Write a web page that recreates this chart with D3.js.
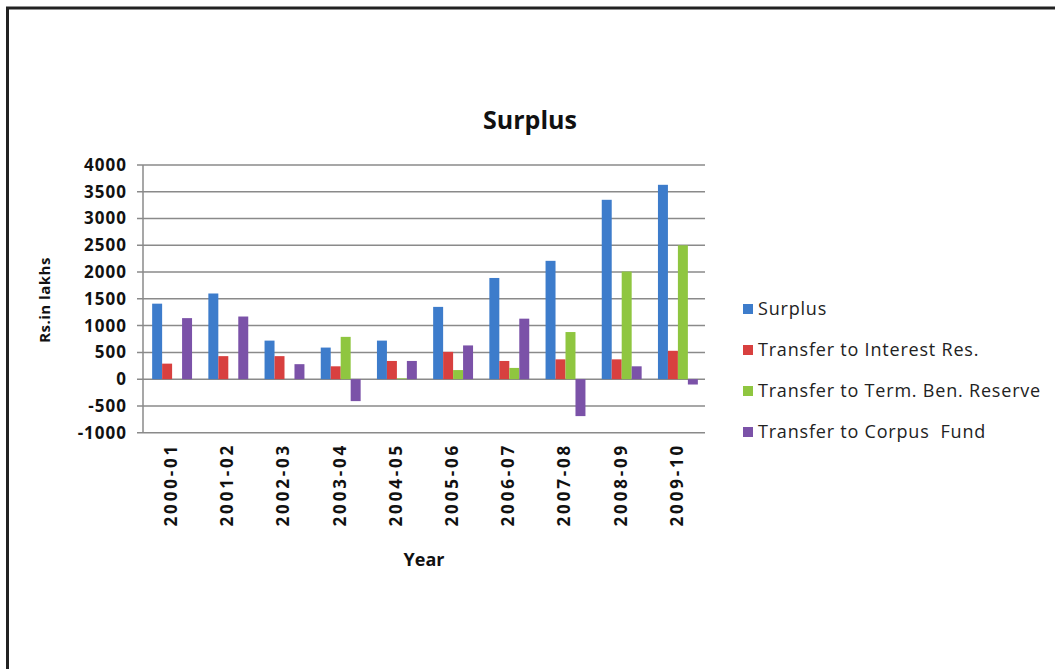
<!DOCTYPE html>
<html>
<head>
    <title>Surplus</title>
    <style>
        body { margin: 0; background: white; }
        svg { display: block; }
        text { font-family: "Open Sans", Lato, sans-serif; white-space: pre; }
    </style>
    <script src="https://d3js.org/d3.v7.min.js"></script>
</head>
<body>
    <svg width="1055" height="669"></svg>

    <script>
        // data (Rs. in lakhs)
        var years = ["2000-01", "2001-02", "2002-03", "2003-04", "2004-05",
                     "2005-06", "2006-07", "2007-08", "2008-09", "2009-10"];
        var seriesNames = ["Surplus", "Transfer to Interest Res.",
                           "Transfer to Term. Ben. Reserve", "Transfer to Corpus  Fund"];
        var surplus  = [1410, 1600, 720, 590, 720, 1350, 1890, 2210, 3350, 3630];
        var interest = [290, 430, 430, 240, 340, 510, 340, 370, 370, 530];
        var termBen  = [0, 0, 0, 790, 15, 170, 210, 880, 2010, 2500];
        var corpus   = [1140, 1170, 280, -410, 340, 630, 1130, -690, 240, -100];
        var yTicks   = [-1000, -500, 0, 500, 1000, 1500, 2000, 2500, 3000, 3500, 4000];

        var colors = ["#3D7CCB", "#D8403F", "#8FC640", "#7B52A8"];
        var series = [surplus, interest, termBen, corpus];

        var svg = d3.select("svg");

        // frame
        svg.append("path")
            .attr("d", "M7.5,669 V8 H1055")
            .attr("fill", "none")
            .attr("stroke", "#222")
            .attr("stroke-width", 3);

        var plotL = 143, plotR = 705, plotT = 165, plotB = 432.7;

        var x = d3.scaleBand().domain(years).range([plotL, plotR]).paddingInner(0.29).paddingOuter(0.145);
        var xs = d3.scaleBand().domain(d3.range(4)).range([0, x.bandwidth()]);
        var y = d3.scaleLinear().domain([-1000, 4000]).range([plotB, plotT]);

        // gridlines
        svg.append("g")
            .selectAll("line")
            .data(yTicks)
            .join("line")
            .attr("x1", plotL - 6)
            .attr("x2", plotR)
            .attr("y1", d => y(d))
            .attr("y2", d => y(d))
            .attr("stroke", "#8a8a8a")
            .attr("stroke-width", 1.5);

        // y axis line
        svg.append("line")
            .attr("x1", plotL).attr("x2", plotL)
            .attr("y1", plotT).attr("y2", plotB)
            .attr("stroke", "#8a8a8a")
            .attr("stroke-width", 1.5);

        // bars
        var groups = svg.append("g")
            .selectAll("g")
            .data(years)
            .join("g")
            .attr("transform", d => "translate(" + (x(d) + 1) + ",0)");

        groups.selectAll("rect")
            .data((d, i) => series.map((s, k) => ({k: k, v: s[i]})))
            .join("rect")
            .attr("x", d => xs(d.k))
            .attr("width", xs.bandwidth())
            .attr("y", d => y(Math.max(0, d.v)))
            .attr("height", d => Math.abs(y(d.v) - y(0)))
            .attr("fill", d => colors[d.k]);

        // y tick labels
        svg.append("g")
            .selectAll("text")
            .data(yTicks)
            .join("text")
            .attr("x", 127)
            .attr("y", d => y(d))
            .attr("dy", "0.35em")
            .attr("text-anchor", "end")
            .attr("font-size", 17)
            .attr("font-weight", "bold")
            .attr("letter-spacing", 1)
            .attr("fill", "#111")
            .text(d => d);

        // x tick labels
        svg.append("g")
            .selectAll("text")
            .data(years)
            .join("text")
            .attr("transform", d => "translate(" + (x(d) + x.bandwidth() / 2) + ",443) rotate(-90)")
            .attr("dy", "0.35em")
            .attr("text-anchor", "end")
            .attr("font-size", 17)
            .attr("font-weight", "bold")
            .attr("letter-spacing", 2.8)
            .attr("fill", "#111")
            .text(d => d);

        // titles
        svg.append("text")
            .attr("x", 530).attr("y", 129)
            .attr("text-anchor", "middle")
            .attr("font-size", 25)
            .attr("font-weight", "bold")
            .attr("fill", "#111")
            .text("Surplus");

        svg.append("text")
            .attr("x", 424).attr("y", 566)
            .attr("text-anchor", "middle")
            .attr("font-size", 18)
            .attr("font-weight", "bold")
            .attr("fill", "#111")
            .text("Year");

        svg.append("text")
            .attr("transform", "translate(45,300) rotate(-90)")
            .attr("dy", "0.35em")
            .attr("text-anchor", "middle")
            .attr("font-size", 15)
            .attr("font-weight", "bold")
            .attr("letter-spacing", 0.5)
            .attr("fill", "#111")
            .text("Rs.in lakhs");

        // legend
        var legend = svg.append("g")
            .selectAll("g")
            .data(seriesNames)
            .join("g")
            .attr("transform", (d, i) => "translate(743," + (309 + i * 41) + ")");

        legend.append("rect")
            .attr("x", 0).attr("y", -5)
            .attr("width", 10).attr("height", 10)
            .attr("fill", (d, i) => colors[i]);

        legend.append("text")
            .attr("x", 15)
            .attr("dy", "0.35em")
            .attr("font-size", 18)
            .attr("letter-spacing", 0.8)
            .attr("fill", "#222")
            .text(d => d);
    </script>
</body>
</html>
